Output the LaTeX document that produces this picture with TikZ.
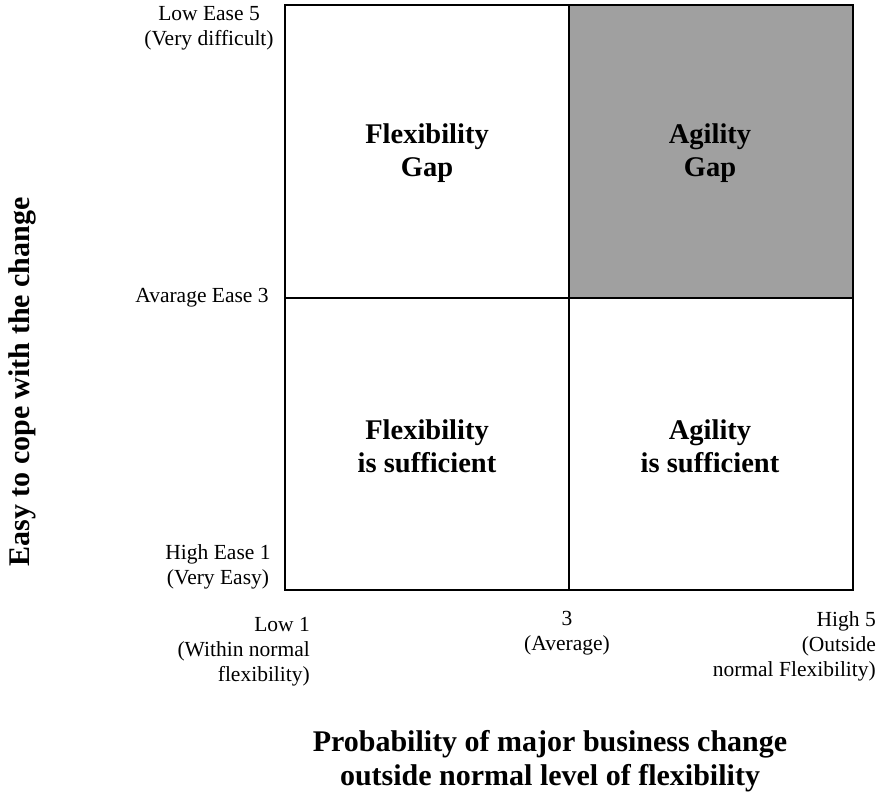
\documentclass[tikz,border=0pt]{standalone}
\usepackage{fontspec}
\setmainfont{Liberation Serif}
\definecolor{gapgray}{RGB}{160,160,160}
\tikzset{
  tick/.style={font=\fontsize{21.5}{25}\selectfont, align=center, inner sep=0pt},
  quad/.style={font=\fontsize{28.5}{33}\selectfont\bfseries, align=center, inner sep=0pt},
  axistitle/.style={font=\fontsize{30}{33.5}\selectfont\bfseries, align=center, inner sep=0pt}
}
\begin{document}
\begin{tikzpicture}[x=1pt,y=-1pt]
	\useasboundingbox (0,0) rectangle (882,794);
	\fill[gapgray] (569,5) rectangle (853,298);
	\draw[line width=2pt] (569,5) -- (569,590);
	\draw[line width=2pt] (285,298) -- (853,298);
	\draw[line width=2.5pt] (285,5) rectangle (853,590);
	\node[quad] (FG) at (427,153) {Flexibility\\Gap};
	\node[quad] (AG) at (710,153) {Agility\\Gap};
	\node[quad] (FS) at (427,446) {Flexibility\\is sufficient};
	\node[quad] (AS) at (710,446) {Agility\\is sufficient};
	\node[tick] (Y5) at (209,28) {Low Ease 5\\(Very difficult)};
	\node[tick] (Y3) at (202,298) {Avarage Ease 3};
	\node[tick] (Y1) at (218,567) {High Ease 1\\(Very Easy)};
	\node[tick, align=right, anchor=east] (X1) at (310,652) {Low 1\\(Within normal\\flexibility)};
	\node[tick] (X3) at (567,633) {3\\(Average)};
	\node[tick, align=right, anchor=east] (X5) at (876,646) {High 5\\(Outside\\normal Flexibility)};
	\node[axistitle] (XT) at (550,761) {Probability of major business change\\outside normal level of flexibility};
	\node[axistitle, rotate=90] (YT) at (22,382) {Easy to cope with the change};
\end{tikzpicture}
\end{document}
